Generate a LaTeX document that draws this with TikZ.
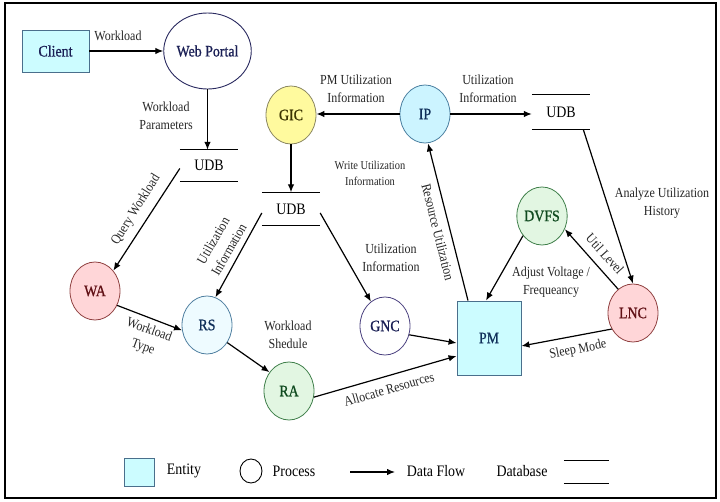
\documentclass[tikz,border=0pt]{standalone}
\usepackage{fontspec}
\setmainfont{Liberation Serif}[FakeStretch=0.87]
\newfontfamily\nodefont{Liberation Serif}[FakeStretch=0.87,FakeBold=0.8]
\usetikzlibrary{arrows.meta,shapes.geometric,calc}
\definecolor{entf}{HTML}{CCFCFF}
\definecolor{entb}{HTML}{4A6F8C}
\definecolor{ipf}{HTML}{CCF4FF}
\definecolor{ipb}{HTML}{4A7FA0}
\definecolor{gicf}{HTML}{FFFA9E}
\definecolor{gicb}{HTML}{8A8660}
\definecolor{grf}{HTML}{E2F6E2}
\definecolor{grb}{HTML}{3F7F4A}
\definecolor{rdf}{HTML}{FFD6D8}
\definecolor{rdb}{HTML}{8F4040}
\definecolor{rsf}{HTML}{EEFBFF}
\definecolor{rsb}{HTML}{4F7FA0}
\definecolor{gncb}{HTML}{4A407F}
\definecolor{wpb}{HTML}{2A2A60}
\definecolor{tnavy}{HTML}{1A1F55}
\definecolor{tgreen}{HTML}{0F4A1F}
\definecolor{tred}{HTML}{600F14}
\definecolor{tolive}{HTML}{3A3300}
\definecolor{tblue}{HTML}{0F2F5A}
\begin{document}
\begin{tikzpicture}[x=1pt,y=-1pt,
  proc/.style={ellipse,minimum width=50pt,minimum height=58pt,inner sep=0pt,line width=0.8pt,font=\nodefont\fontsize{16}{16}\selectfont},
  ent/.style={rectangle,draw=entb,fill=entf,line width=0.9pt,inner sep=0pt,font=\nodefont\fontsize{16}{16}\selectfont},
  flow/.style={line width=1.2pt,-{Latex[length=8pt,width=6.5pt]}},
  lbl/.style={font=\fontsize{13.8}{18}\selectfont,align=center,inner sep=0pt,text=black!85},
  smalllbl/.style={font=\fontsize{12}{16}\selectfont,align=center,inner sep=0pt,text=black!85},
  store/.style={minimum width=58pt,inner sep=0pt,font=\fontsize{16}{16}\selectfont},
  storeline/.style={line width=1.3pt},
  legtext/.style={font=\fontsize{16}{16}\selectfont,inner sep=0pt}
]
\useasboundingbox (0,0) rectangle (720,502);
\draw[line width=1.5pt] (5,3) rectangle (716,498);

% nodes
\node[ent,minimum width=67pt,minimum height=42pt,text=tnavy] (client) at (55.5,51) {Client};
\node[ellipse,draw=wpb,fill=white,line width=0.9pt,minimum width=72pt,minimum height=76pt,inner sep=0pt,font=\nodefont\fontsize{16}{16}\selectfont,text=tnavy] (wp) at (207.5,51) {Web Portal};
\node[store,minimum height=31pt] (udb1) at (209,165.5) {UDB};
\node[proc,draw=gicb,fill=gicf,text=tolive] (gic) at (291,115) {GIC};
\node[proc,draw=ipb,fill=ipf,text=tblue] (ip) at (425,114) {IP};
\node[store,minimum height=33pt] (udb2) at (291,209) {UDB};
\node[store,minimum height=34pt] (udb3) at (561,112) {UDB};
\node[proc,draw=rdb,fill=rdf,text=tred] (wa) at (95,291) {WA};
\node[proc,draw=rsb,fill=rsf,text=tblue] (rs) at (207,325) {RS};
\node[proc,draw=grb,fill=grf,text=tgreen] (ra) at (289,391) {RA};
\node[proc,draw=gncb,fill=white,text=tnavy] (gnc) at (385,326) {GNC};
\node[ent,minimum width=64pt,minimum height=74pt,text=tblue] (pm) at (489,338) {PM};
\node[proc,draw=grb,fill=grf,text=tgreen] (dvfs) at (542,216) {DVFS};
\node[proc,draw=rdb,fill=rdf,text=tred] (lnc) at (633,313) {LNC};

% store lines
\foreach \s in {udb1,udb2,udb3}{
  \draw[storeline] (\s.north west) -- (\s.north east) (\s.south west) -- (\s.south east);
}

% connectors
\draw[flow] (client.east) -- (wp.west);
\draw[flow] (wp.south) -- (wp.south |- udb1.north);
\draw[flow] (gic.south) -- (gic.south |- udb2.north);
\draw[flow] (ip.west) -- (ip.west -| gic.east);
\draw[flow] (ip.east) -- (ip.east -| udb3.west);
\draw[flow] ([xshift=-7pt]udb3.south east) -- (lnc.north);
\draw[flow] (lnc.122) -- (dvfs.-30);
\draw[flow] (dvfs.-134) -- ([xshift=-3pt]pm.north);
\draw[flow] ([xshift=-21pt]pm.north) -- ([xshift=3pt]ip.south);
\draw[flow] (lnc.-143) -- ([yshift=-8pt]pm.east);
\draw[flow] (gnc.-20) -- ([yshift=-5pt]pm.west);
\draw[flow] (ra.-14) -- ([yshift=-18pt]pm.west);
\draw[flow] ([yshift=-4pt]udb2.east) -- (gnc.120);
\draw[flow] ([yshift=-4pt]udb2.west) -- (rs.73);
\draw[flow] ([yshift=-3pt]udb1.west) -- (wa.48);
\draw[flow] (wa.-33) -- (rs.192);
\draw[flow] (rs.-41) -- (ra.136);

% labels
\node[lbl] (l1) at (118,36) {Workload};
\node[lbl] (l2) at (166,116) {Workload\\Parameters};
\node[lbl] (l3) at (356,89) {PM Utilization\\Information};
\node[lbl] (l4) at (488,89) {Utilization\\Information};
\node[smalllbl] (l5) at (370,173) {Write Utilization\\Information};
\node[lbl] (l6) at (391,258) {Utilization\\Information};
\node[lbl] (l7) at (662,203) {Analyze Utilization\\History};
\node[lbl] (l8) at (551,282) {Adjust Voltage /\\Frequeancy};
\node[lbl] (l9) at (288,335) {Workload\\Shedule};
\node[lbl,rotate=-48] (l10) at (605,254) {Util Level};
\node[lbl,rotate=11] (l11) at (578,350) {Sleep Mode};
\node[lbl,rotate=16] (l12) at (389,389) {Allocate Resources};
\node[lbl,rotate=-20] (l13) at (146,339) {Workload\\Type};
\node[lbl,rotate=58] (l14) at (136,210) {Query Workload};
\node[lbl,rotate=60] (l15) at (221,245) {Utilization\\Information};
\node[lbl,rotate=-76] (l16) at (438,232) {Resource Utilization};

% legend
\node[rectangle,draw=entb,fill=entf,line width=0.9pt,minimum width=30pt,minimum height=28pt,inner sep=0pt] (legent) at (139,472) {};
\node[legtext] (legentt) at (184,471) {Entity};
\node[ellipse,draw=black,line width=0.9pt,minimum width=22pt,minimum height=24pt,inner sep=0pt] (legproc) at (251,471) {};
\node[legtext] (legproct) at (294,471) {Process};
\coordinate (dfa) at (350,472);
\coordinate (dfb) at (395,472);
\draw[flow] (dfa) -- (dfb);
\node[legtext] (legdf) at (436,471) {Data Flow};
\node[legtext] (legdb) at (522,471) {Database};
\node[minimum width=45pt,minimum height=22pt,inner sep=0pt] (legdbl) at (586.5,472) {};
\draw[storeline] (legdbl.north west) -- (legdbl.north east) (legdbl.south west) -- (legdbl.south east);
\end{tikzpicture}
\end{document}
